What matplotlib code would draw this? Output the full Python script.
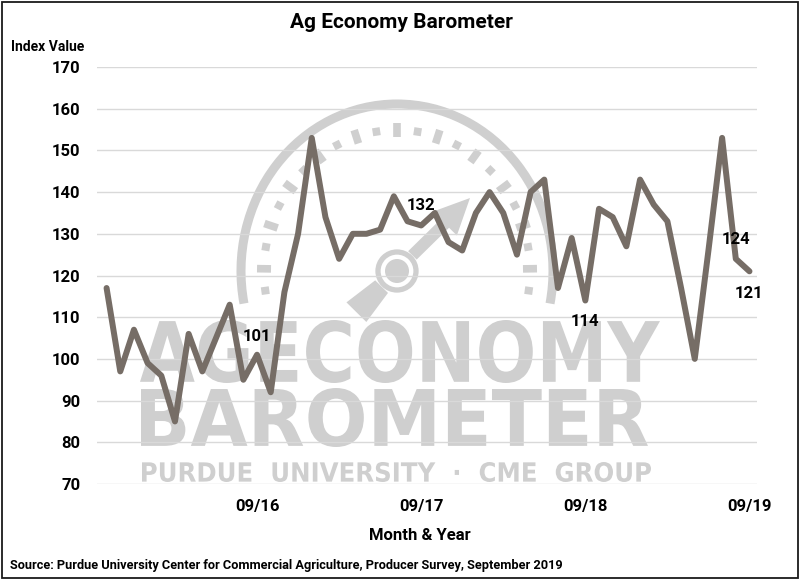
import matplotlib
matplotlib.use('Agg')
import matplotlib.pyplot as plt
from matplotlib.patches import Arc, Circle, Polygon, PathPatch, Rectangle
from matplotlib.textpath import TextPath
from matplotlib.font_manager import FontProperties
from matplotlib.transforms import Affine2D
import numpy as np
import pandas as pd

# monthly survey, Oct 2015 .. Sep 2019
months = pd.date_range('2015-10-01', periods=48, freq='MS').strftime('%m/%y').tolist()
index_value = [117, 97, 107, 99, 96, 85, 106, 97, 105, 113, 95, 101,
               92, 116, 130, 153, 134, 124, 130, 130, 131, 139, 133, 132,
               135, 128, 126, 135, 140, 135, 125, 140, 143, 117, 129, 114,
               136, 134, 127, 143, 137, 133, 117, 100, 126, 153, 124, 121]
tick_months = ['09/16', '09/17', '09/18', '09/19']
label_months = ['09/16', '09/17', '09/18', '08/19', '09/19']

plt.rcParams['font.family'] = ['Roboto', 'DejaVu Sans']
plt.rcParams['font.weight'] = 'bold'

fig = plt.figure(figsize=(8, 5.8), dpi=100)
fig.patch.set_facecolor('white')

# background axes in image pixels (y down) for the logo watermark
bg = fig.add_axes([0, 0, 1, 1], zorder=0)
bg.set_xlim(0, 800)
bg.set_ylim(580, 0)
bg.axis('off')

wm = '#cfcfcf'


def fit_text(s, box, prop):
    x0, y0, x1, y1 = box
    tp = TextPath((0, 0), s, size=100, prop=prop)
    ext = tp.get_extents()
    tr = (Affine2D().translate(-ext.x0, -ext.y0)
          .scale((x1 - x0) / ext.width, -(y1 - y0) / ext.height)
          .translate(x0, y1))
    bg.add_patch(PathPatch(tr.transform_path(tp), fc=wm, ec='none'))


heavy = FontProperties(family='DejaVu Sans', weight='bold')
fit_text('AGECONOMY', (140, 320, 660, 383), heavy)
fit_text('BAROMETER', (141, 388, 648, 447), heavy)
fit_text('PURDUE  UNIVERSITY  ·  CME  GROUP', (142, 462, 651, 482), heavy)

# gauge
cx, cy = 397, 271
bg.add_patch(Arc((cx, cy), 2 * 156, 2 * 167, theta1=168, theta2=372, color=wm, lw=6.5))
for k, a in enumerate(np.linspace(-8, 188, 23)):
    t = np.radians(a)
    ux, uy = np.cos(t), -np.sin(t)
    ln = 7 if k % 2 else 4
    rx, ry = 133, 141
    px, py = cx + rx * ux, cy + ry * uy
    bg.plot([px - ln * ux, px + ln * ux], [py - ln * uy, py + ln * uy],
            color=wm, lw=5.5, solid_capstyle='butt')
bg.add_patch(Circle((cx, cy), 19, fill=False, ec=wm, lw=3.8))
bg.add_patch(Circle((cx, cy), 12, fc=wm, ec='none'))
d = np.array([0.70, -0.71])
n = np.array([0.71, 0.70])
c = np.array([cx, cy])
tip = np.array([470, 198])
base = tip - 36 * d
shaft = [c + 22 * d + 6 * n, base + 6 * n, base + 17 * n, tip,
         base - 17 * n, base - 6 * n, c + 22 * d - 6 * n]
bg.add_patch(Polygon(shaft, closed=True, fc=wm, ec='none'))
tail = [c - 22 * d + 9 * n, c - 58 * d + 14 * n, c - 58 * d - 14 * n, c - 22 * d - 9 * n]
bg.add_patch(Polygon(tail, closed=True, fc=wm, ec='none'))

bg.add_patch(Rectangle((1.5, 1.5), 796.5, 576.5, fill=False, ec='#1a1a1a', lw=1.3))

# main chart
ax = fig.add_axes([97 / 800, (580 - 484) / 580, 660 / 800, 417 / 580], zorder=2)
ax.set_facecolor('none')
x = np.arange(len(months))
ax.plot(x, index_value, color='#766d66', lw=4.3, solid_joinstyle='round',
        solid_capstyle='round', zorder=3)

ax.set_xlim(-0.7, 47.55)
ax.set_ylim(70, 170)
ax.set_yticks(range(70, 171, 10))
ax.set_xticks([months.index(m) for m in tick_months])
ax.set_xticklabels(tick_months)
ax.yaxis.grid(True, color='#d9d9d9', lw=1)
ax.set_axisbelow(True)
for s in ax.spines.values():
    s.set_visible(False)
ax.tick_params(axis='both', length=0, labelsize=12, colors='black')
ax.tick_params(axis='x', pad=11)
ax.tick_params(axis='y', pad=12)
for t in ax.get_xticklabels() + ax.get_yticklabels():
    t.set_fontweight('bold')

offsets = [18, 20, -21, 19, -22]
for m, off in zip(label_months, offsets):
    i = months.index(m)
    ax.annotate(f'{index_value[i]:.0f}', (i, index_value[i]), xytext=(0, off),
                textcoords='offset pixels', ha='center', va='center',
                fontsize=12, fontweight='bold', color='black', zorder=4)

fig.text(401 / 800, 1 - 23 / 580, 'Ag Economy Barometer', ha='center', va='center',
         fontsize=15, fontweight='bold')
fig.text(11 / 800, 1 - 47 / 580, 'Index Value', ha='left', va='center',
         fontsize=10, fontweight='bold')
fig.text(420 / 800, 1 - 535 / 580, 'Month & Year', ha='center', va='center',
         fontsize=12, fontweight='bold')
fig.text(10 / 800, 1 - 565 / 580,
         'Source: Purdue University Center for Commercial Agriculture, Producer Survey, September 2019',
         ha='left', va='center', fontsize=9.2, fontweight='bold')

fig.savefig('out.png', dpi=100, facecolor='white')
